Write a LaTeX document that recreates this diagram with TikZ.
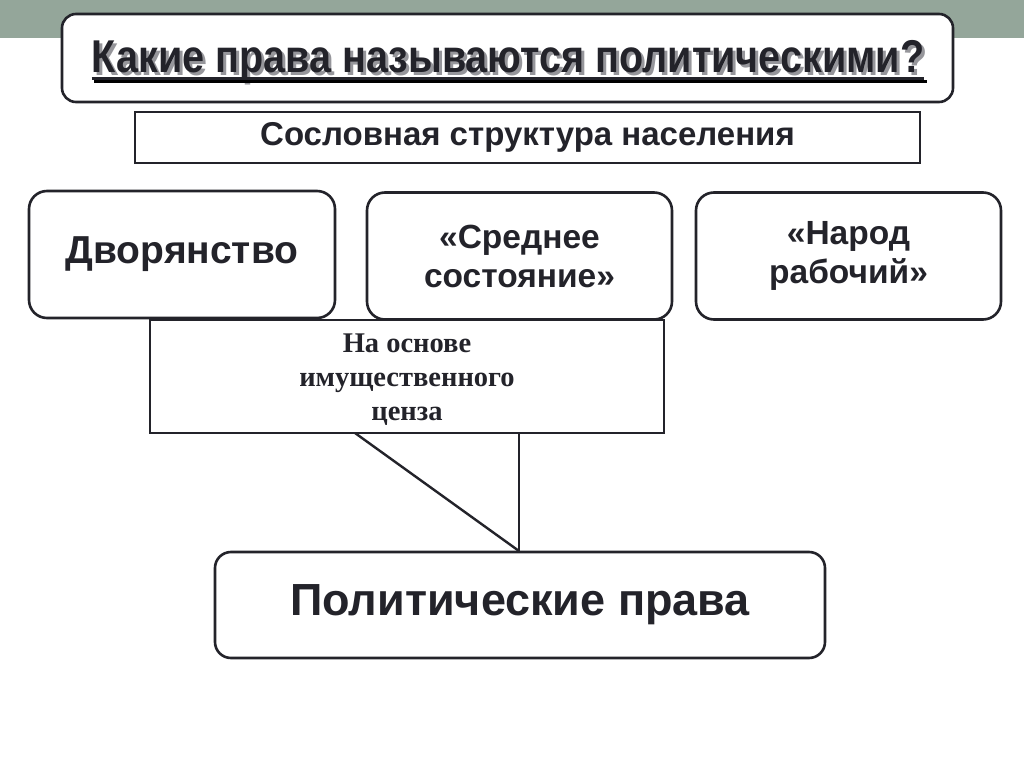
\documentclass[tikz,border=0pt]{standalone}
\usepackage{fontspec}
\setmainfont{Liberation Sans}
\newfontfamily\narrowfont[FakeStretch=0.86]{Liberation Sans}
\newfontfamily\timesfont{Liberation Serif}
\usetikzlibrary{calc}
\definecolor{barcol}{RGB}{148,166,154}
\definecolor{ink}{RGB}{35,35,42}
\definecolor{shade}{RGB}{150,150,155}
\newcommand{\shadowtext}[1]{\makebox[0pt][l]{\hspace{3bp}\raisebox{-3bp}{\textcolor{shade}{#1}}}#1}
\begin{document}
\begin{tikzpicture}[x=1bp,y=-1bp,
  rbox/.style={draw=ink, line width=2.6bp, rounded corners=18bp, fill=white, text=ink, align=center, inner sep=0pt},
  sbox/.style={draw=ink, line width=2.4bp, fill=white, text=ink, align=center, inner sep=0pt},
  link/.style={draw=ink, line width=2.4bp}
]
\useasboundingbox (0,0) rectangle (1024,767);
\fill[white] (0,0) rectangle (1024,767);
\fill[barcol] (0,0) rectangle (1024,38);

% title
\node[rbox, rounded corners=14bp, minimum width=891bp, minimum height=88bp] (title) at (507.5,58) {};
\node[text=ink, font=\narrowfont\bfseries\fontsize{46bp}{50bp}\selectfont, anchor=base, inner sep=0pt] (tt) at (508,73) {\shadowtext{Какие права называются политическими?}};
\draw[shade, line width=2.6bp] ([shift={(2.5bp,-8.5bp)}]tt.base west) -- ([shift={(2.5bp,-8.5bp)}]tt.base east);
\draw[ink, line width=2.4bp] ([yshift=-5.5bp]tt.base west) -- ([yshift=-5.5bp]tt.base east);

% subtitle
\node[sbox, minimum width=785bp, minimum height=51bp, font=\bfseries\fontsize{33bp}{38bp}\selectfont] (sub) at (527.5,137.5) {Сословная структура населения};

% estates
\node[rbox, minimum width=306bp, minimum height=127bp, font=\bfseries\fontsize{39bp}{44bp}\selectfont] (b1) at (182,254.5) {Дворянство};
\node[rbox, minimum width=305bp, minimum height=127bp, font=\bfseries\fontsize{33.5bp}{39bp}\selectfont] (b2) at (519.5,256) {«Среднее\\состояние»};
\node[rbox, minimum width=305bp, minimum height=127bp, font=\bfseries\fontsize{33.5bp}{39bp}\selectfont] (b3) at (848.5,256) {«Народ\\рабочий»};

% census
\node[sbox, minimum width=514bp, minimum height=113bp, font=\timesfont\bfseries\fontsize{28.5bp}{34bp}\selectfont] (cenz) at (407,376.5) {};
\node[text=ink, align=center, inner sep=0pt, font=\timesfont\bfseries\fontsize{28.5bp}{34bp}\selectfont] (cenzt) at (407,380) {На основе\\имущественного\\ценза};

% political rights
\node[rbox, rounded corners=16bp, minimum width=610bp, minimum height=106bp, font=\bfseries\fontsize{45bp}{50bp}\selectfont] (pol) at (520,605) {Политические права};

\coordinate (c1) at (355,433);
\coordinate (c2) at (519,433);
\coordinate (j) at (519,551);
\draw[link] (c1) -- (j);
\draw[link] (c2) -- (j);
\end{tikzpicture}
\end{document}
